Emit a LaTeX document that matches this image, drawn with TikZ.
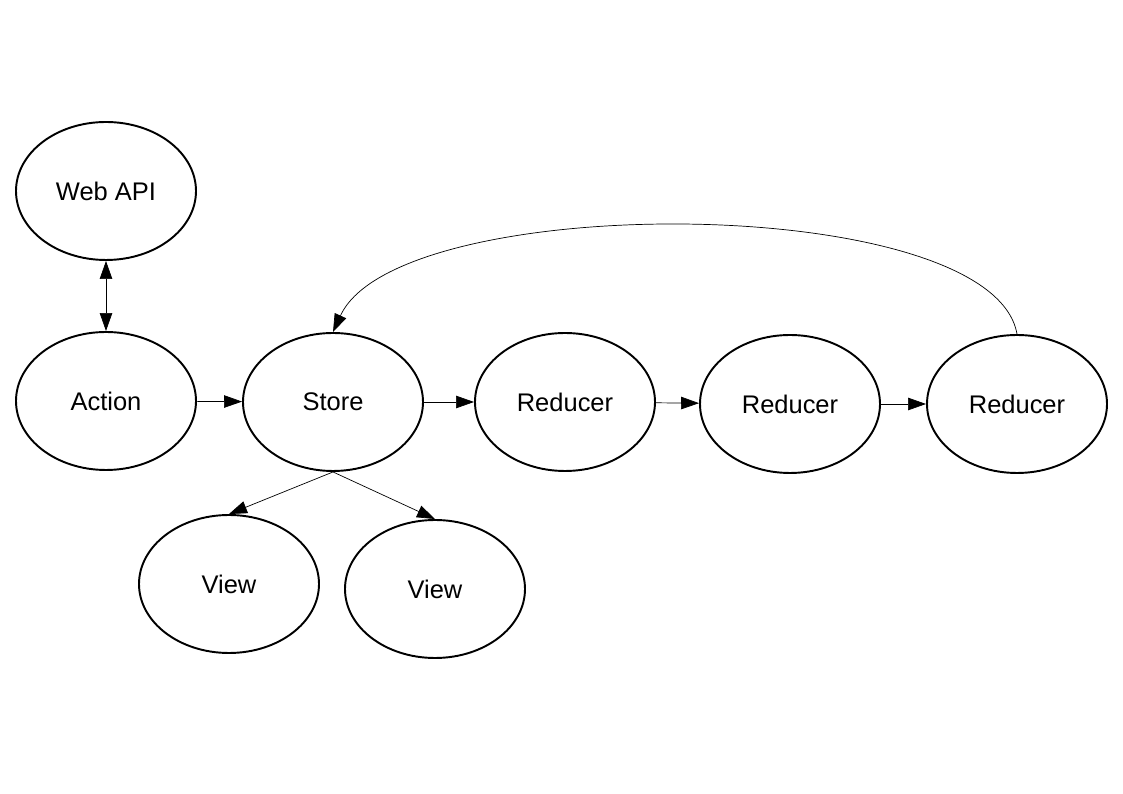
\documentclass[tikz,border=0pt]{standalone}
\usepackage{fontspec}
\setmainfont{Liberation Sans}
\usetikzlibrary{arrows.meta,positioning,shapes.geometric}

\tikzset{
	blob/.style={draw, ellipse, line width=1.1pt, minimum width=3.6cm, minimum height=2.76cm, font=\fontsize{14.5}{17}\selectfont},
	flow/.style={line width=0.4pt, -{Triangle[length=3.6mm,width=2.5mm]}},
	twoway/.style={line width=0.4pt, {Triangle[length=3.6mm,width=2.5mm]}-{Triangle[length=3.6mm,width=2.5mm]}}
}

\begin{document}
\begin{tikzpicture}
	\useasboundingbox
		(0,0) rectangle (22.46,15.88);

	\node [blob] (webapi) at (2.12,12.06) {Web API};

	\node [blob] (action) at (2.12,7.86) {Action};

	\node [blob] (store) at (6.66,7.84) {Store};

	\node [blob] (reducerA) at (11.30,7.84) {Reducer};

	\node [blob] (reducerB) at (15.80,7.80) {Reducer};

	\node [blob] (reducerC) at (20.34,7.80) {Reducer};

	\node [blob] (viewA) at (4.58,4.20) {View};

	\node [blob] (viewB) at (8.70,4.10) {View};

	\draw [twoway] (webapi) -- (action);

	\draw [flow] (action) -- (store);

	\draw [flow] (store) -- (reducerA);

	\draw [flow] (reducerA) -- (reducerB);

	\draw [flow] (reducerB) -- (reducerC);

	\draw [flow] (store.south) -- (viewA.north);

	\draw [flow] (store.south) -- (viewB.north);

	\draw [flow] (reducerC.north) .. controls +(-0.5,2.85) and +(1.3,2.85) .. (store.north);
\end{tikzpicture}
\end{document}
